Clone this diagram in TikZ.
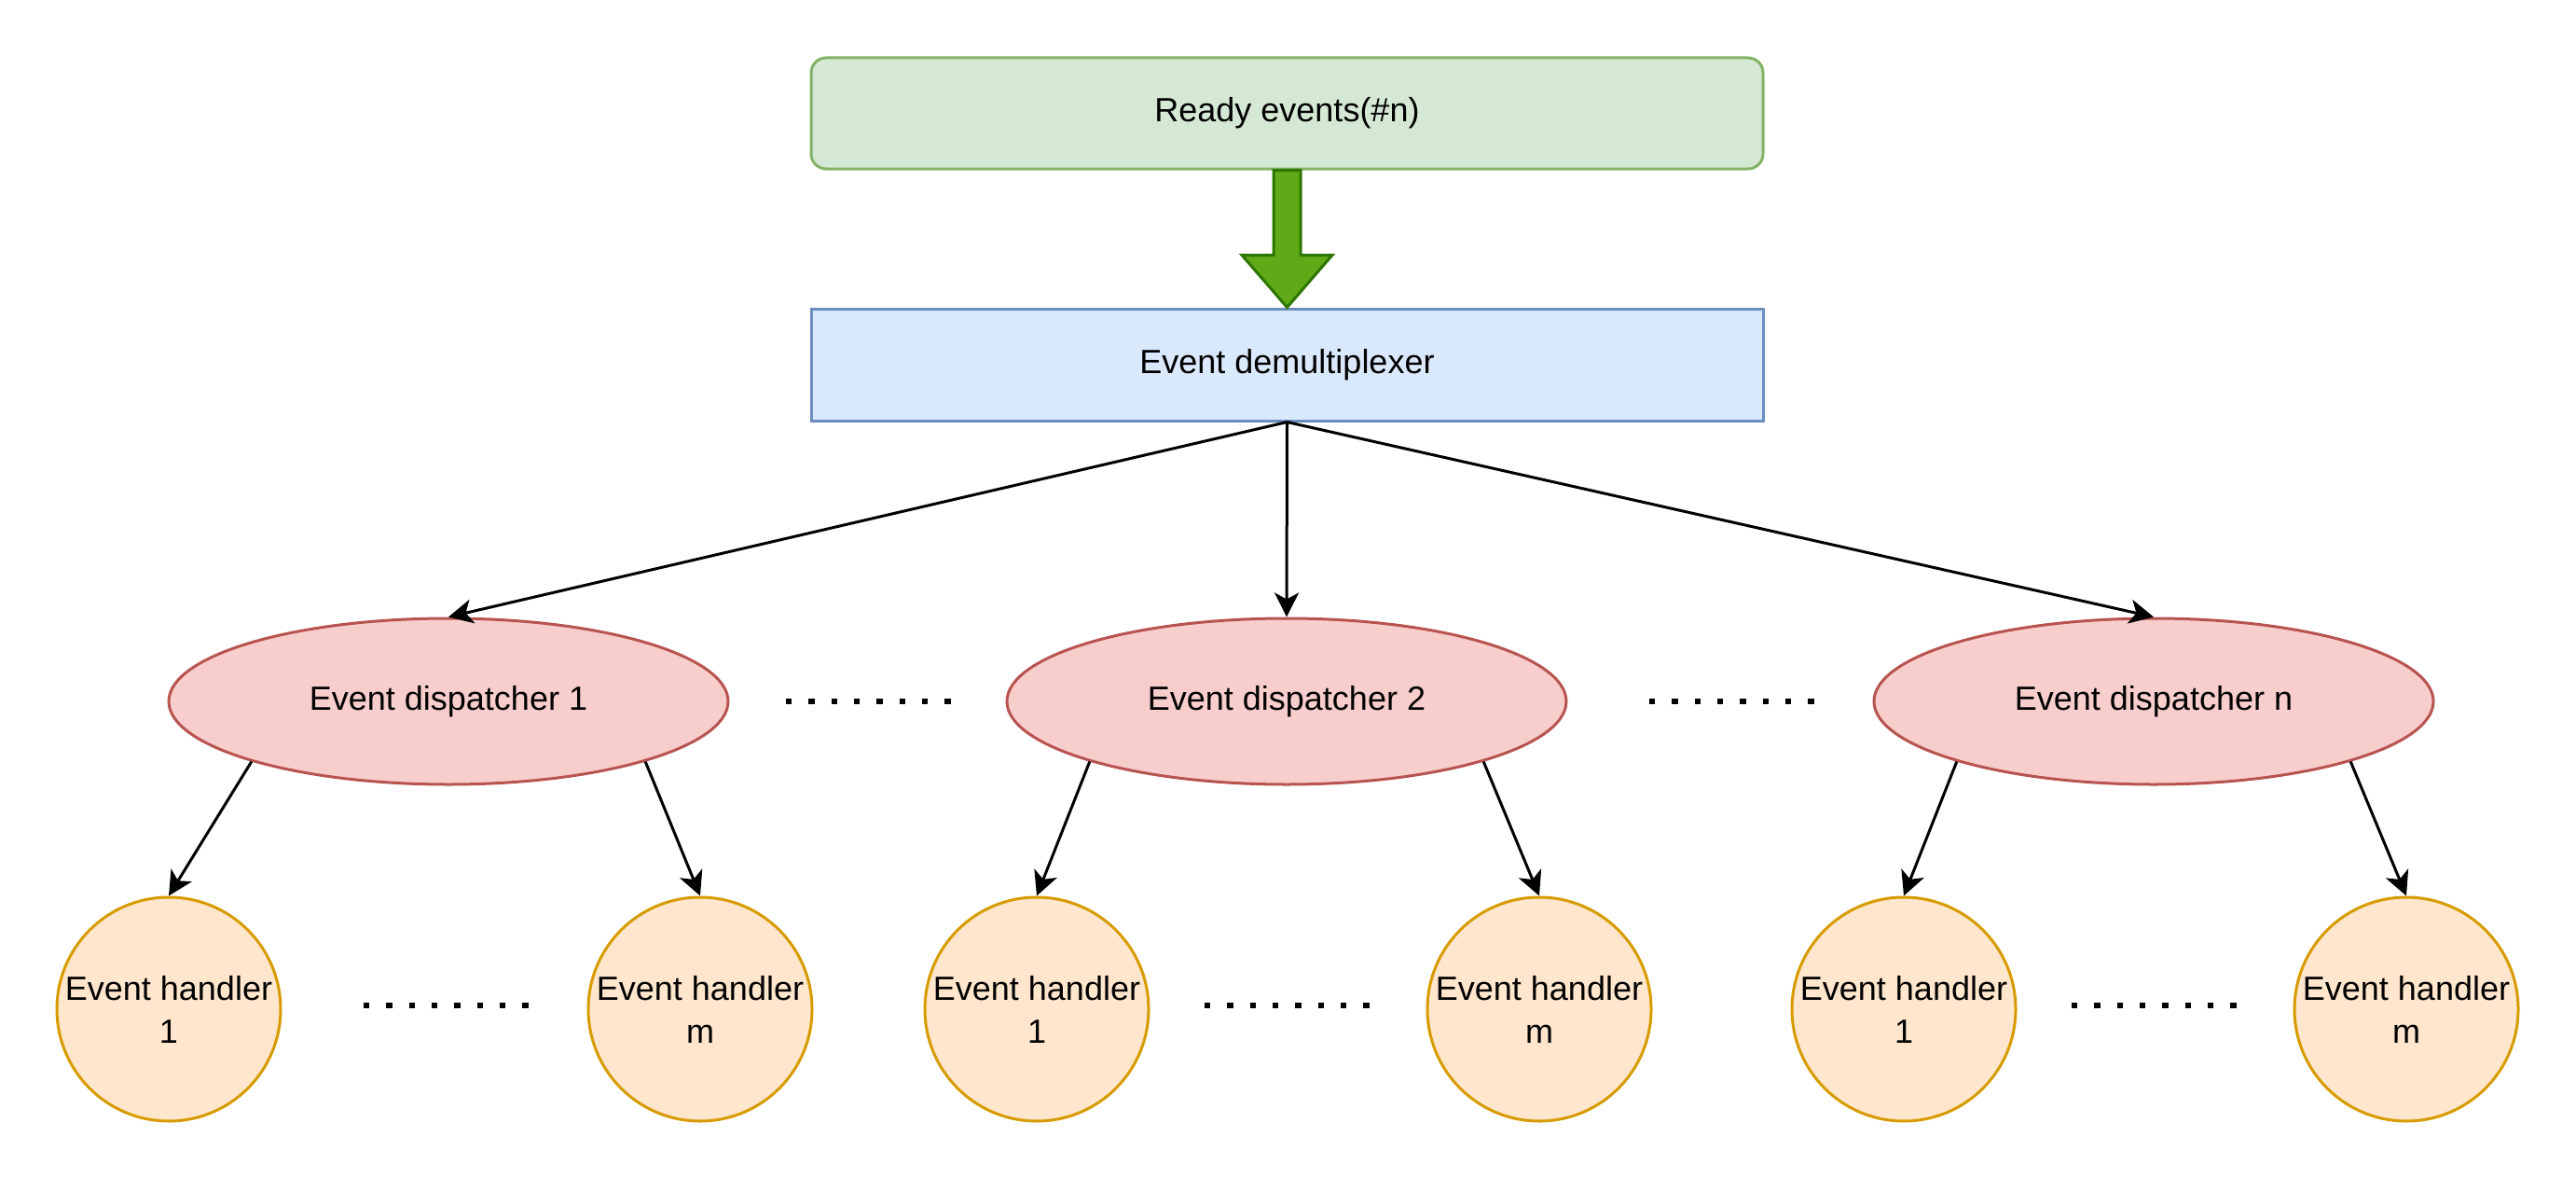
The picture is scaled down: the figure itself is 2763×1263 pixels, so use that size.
\documentclass[tikz,border=0pt]{standalone}
\usepackage{fontspec}
\setmainfont{Liberation Sans}
\usetikzlibrary{shapes.geometric,arrows.meta,calc}
\definecolor{gfill}{HTML}{D5E8D4}\definecolor{gline}{HTML}{82B366}
\definecolor{bfill}{HTML}{DAE8FC}\definecolor{bline}{HTML}{6C8EBF}
\definecolor{rfill}{HTML}{F8CECC}\definecolor{rline}{HTML}{B85450}
\definecolor{ofill}{HTML}{FFE6CC}\definecolor{oline}{HTML}{D79B00}
\definecolor{afill}{HTML}{60A917}\definecolor{aline}{HTML}{2D7600}
\tikzset{
  lbl/.style={font=\fontsize{18}{23}\selectfont, text=black, align=center, line width=1.5pt, inner sep=0pt},
  readybox/.style={lbl, rectangle, rounded corners=8pt, draw=gline, fill=gfill, minimum width=510.5pt, minimum height=59.5pt},
  demuxbox/.style={lbl, rectangle, draw=bline, fill=bfill, minimum width=510.5pt, minimum height=60pt},
  dispatch/.style={lbl, ellipse, draw=rline, fill=rfill, minimum width=300pt, minimum height=89pt},
  handler/.style={lbl, circle, draw=oline, fill=ofill, minimum size=120pt},
  conn/.style={line width=1.5pt, -{Stealth[length=13pt, width=13pt, inset=3.5pt]}},
  dotrow/.style={line width=3.2pt, dash pattern=on 3.2pt off 8.95pt},
  blockarrow/.style={fill=afill, draw=aline, line width=1.5pt, line join=miter}
}
\begin{document}
\begin{tikzpicture}[x=0.5pt, y=-0.5pt]
\useasboundingbox (0,0) rectangle (2763,1263);
\node[readybox] (ready) at (1380.5,121.5) {Ready events(\#n)};
\node[demuxbox] (demux) at (1380.5,391) {Event demultiplexer};
\node[dispatch] (d1) at (481,752) {Event dispatcher 1};
\node[dispatch] (d2) at (1380,752) {Event dispatcher 2};
\node[dispatch] (dn) at (2310,752) {Event dispatcher n};
\node[handler] (h11) at (181,1082) {Event handler\\1};
\node[handler] (h1m) at (751,1082) {Event handler\\m};
\node[handler] (h21) at (1112,1082) {Event handler\\1};
\node[handler] (h2m) at (1651,1082) {Event handler\\m};
\node[handler] (hn1) at (2042,1082) {Event handler\\1};
\node[handler] (hnm) at (2581,1082) {Event handler\\m};
% block arrow
\draw[blockarrow] ($(ready.south)+(-14.5,0)$) -- ($(ready.south)+(-14.5,91)$) -- ($(ready.south)+(-48.5,91)$)
  -- (demux.north) -- ($(ready.south)+(48.5,91)$) -- ($(ready.south)+(14.5,91)$) -- ($(ready.south)+(14.5,0)$) -- cycle;
% connectors
\draw[conn] (demux.south) -- (d1.north);
\draw[conn] (demux.south) -- (d2.north);
\draw[conn] (demux.south) -- (dn.north);
\draw[conn] (d1.197) -- (h11.north);
\draw[conn] (d1.343) -- (h1m.north);
\draw[conn] (d2.197) -- (h21.north);
\draw[conn] (d2.343) -- (h2m.north);
\draw[conn] (dn.197) -- (hn1.north);
\draw[conn] (dn.343) -- (hnm.north);
% dots
\coordinate (a1) at (843,752); \coordinate (a2) at (1020,752);
\coordinate (b1) at (1769,752); \coordinate (b2) at (1946,752);
\coordinate (c1) at (390,1078); \coordinate (c2) at (567,1078);
\coordinate (e1) at (1292,1078); \coordinate (e2) at (1469,1078);
\coordinate (f1) at (2222,1078); \coordinate (f2) at (2399,1078);
\draw[dotrow] (a1) -- (a2);
\draw[dotrow] (b1) -- (b2);
\draw[dotrow] (c1) -- (c2);
\draw[dotrow] (e1) -- (e2);
\draw[dotrow] (f1) -- (f2);
\end{tikzpicture}
\end{document}
